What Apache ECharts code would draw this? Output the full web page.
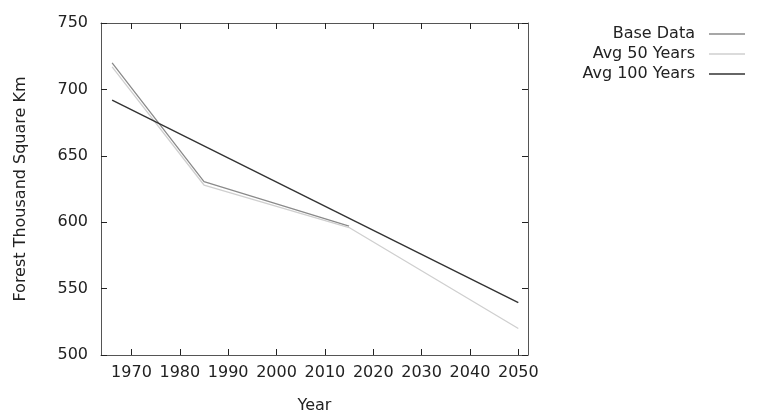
<!DOCTYPE html>
<html>
<head>
<meta charset="utf-8">
<script src="https://cdn.jsdelivr.net/npm/echarts@6/dist/echarts.min.js"></script>
<style>
  html, body { margin: 0; padding: 0; background: #fff; }
  #chart { width: 763px; height: 414px; }
</style>
</head>
<body>
<div id="chart"></div>
<script>
// data: [year, thousand sq km]
var baseData = [[1966, 720], [1985, 630.5], [2015, 597]];
var avg50 = [[1966, 717], [1985, 628], [2015, 596], [2050, 520]];
var avg100 = [[1966, 692], [2050, 539.5]];
var yearTicks = [1970, 1980, 1990, 2000, 2010, 2020, 2030, 2040, 2050];

var font = 'DejaVu Sans';
var txt = '#222';

var chart = echarts.init(document.getElementById('chart'));

var boxX = {
  type: 'value', min: 1963.7, max: 2052,
  axisLine: { show: true, onZero: false, lineStyle: { color: '#555', width: 1 } },
  axisTick: { show: true, inside: true, length: 6, customValues: yearTicks, lineStyle: { color: '#222' } },
  splitLine: { show: false }
};
var boxY = {
  type: 'value', min: 500, max: 750, interval: 50,
  axisLine: { show: true, onZero: false, lineStyle: { color: '#555', width: 1 } },
  axisTick: { show: true, inside: true, length: 6, lineStyle: { color: '#222' } },
  splitLine: { show: false }
};

var option = {
  animation: false,
  backgroundColor: '#fff',
  textStyle: { fontFamily: font },
  grid: { left: 101, right: 235, top: 23, bottom: 59, outerBoundsMode: 'none', containLabel: false },
  legend: {
    orient: 'vertical',
    right: 13, top: 19,
    align: 'right',
    icon: 'rect',
    itemWidth: 36, itemHeight: 1.3, itemGap: 0,
    textStyle: { fontFamily: font, fontSize: 16, lineHeight: 20, color: txt, padding: [0, 9, 0, 0] },
    data: ['Base Data', 'Avg 50 Years', 'Avg 100 Years']
  },
  xAxis: [
    Object.assign({}, boxX, {
      position: 'bottom',
      name: 'Year', nameLocation: 'middle', nameGap: 43,
      nameTextStyle: { fontFamily: font, fontSize: 16, color: txt },
      axisLabel: { show: true, customValues: yearTicks, margin: 10, fontFamily: font, fontSize: 16, color: txt,
        formatter: function (v) { return String(v); } }
    }),
    Object.assign({}, boxX, { position: 'top', axisLabel: { show: false } })
  ],
  yAxis: [
    Object.assign({}, boxY, {
      position: 'left',
      name: 'Forest Thousand Square Km', nameLocation: 'middle', nameGap: 72,
      nameTextStyle: { fontFamily: font, fontSize: 16, color: txt },
      axisLabel: { show: true, margin: 13, fontFamily: font, fontSize: 16, color: txt }
    }),
    Object.assign({}, boxY, { position: 'right', axisLabel: { show: false } })
  ],
  series: [
    { name: 'Base Data', type: 'line', data: baseData, symbol: 'none',
      itemStyle: { color: '#8a8a8a' }, lineStyle: { color: '#8a8a8a', width: 1.3 } },
    { name: 'Avg 50 Years', type: 'line', data: avg50, symbol: 'none',
      itemStyle: { color: '#cfcfcf' }, lineStyle: { color: '#cfcfcf', width: 1.3 } },
    { name: 'Avg 100 Years', type: 'line', data: avg100, symbol: 'none',
      itemStyle: { color: '#333' }, lineStyle: { color: '#333', width: 1.4 } }
  ]
};

chart.setOption(option);
</script>
</body>
</html>
